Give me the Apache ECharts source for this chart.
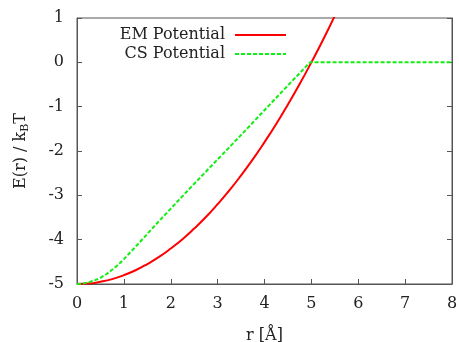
<!DOCTYPE html>
<html>
<head>
<meta charset="utf-8">
<script src="https://cdn.jsdelivr.net/npm/echarts@6/dist/echarts.min.js"></script>
<style>html,body{margin:0;padding:0;background:#fff}#c{width:459px;height:342px}</style>
</head>
<body>
<div id="c"></div>
<script>
// Data
const emR = [0, 0.25, 0.5, 0.75, 1, 1.25, 1.5, 1.75, 2, 2.25, 2.5, 2.75, 3, 3.25, 3.5, 3.75, 4, 4.25, 4.5, 4.75, 5, 5.25, 5.5];
const emE = [-5, -4.99, -4.95, -4.89, -4.8, -4.69, -4.55, -4.39, -4.2, -3.99, -3.75, -3.49, -3.2, -2.89, -2.55, -2.19, -1.8, -1.39, -0.95, -0.49, 0, 0.51, 1.05];
const csR = [0, 0.125, 0.25, 0.375, 0.5, 0.625, 0.75, 0.875, 1, 1.25, 1.5, 1.75, 2, 2.5, 3, 3.5, 4, 4.5, 4.97, 8];
const csE = [-5, -4.99, -4.96, -4.92, -4.86, -4.78, -4.68, -4.57, -4.44, -4.16, -3.87, -3.58, -3.3, -2.74, -2.19, -1.64, -1.08, -0.52, 0, 0];
const seriesNames = ['EM Potential', 'CS Potential'];
const xTitle = 'r [Å]';
const yTitle = 'E(r) / k{sub|B}T';

const font = 'DejaVu Serif';
const axisColor = '#555';
const textColor = '#222';
const pairs = (xs, ys) => xs.map((x, i) => [x, ys[i]]);

const chart = echarts.init(document.getElementById('c'), null, {renderer: 'canvas'});
chart.setOption({
  animation: false,
  backgroundColor: '#fff',
  grid: {left: 77, right: 7, top: 18, bottom: 58, show: true, borderColor: axisColor, borderWidth: 1,
    containLabel: false, outerBoundsMode: 'none'},
  legend: {
    orient: 'vertical', align: 'right', right: 172, top: 27, padding: 0,
    itemWidth: 51, itemHeight: 10, itemGap: 3,
    itemStyle: {opacity: 0},
    textStyle: {fontFamily: font, fontSize: 16, color: textColor, padding: [0, 5, 0, 0]},
    data: seriesNames
  },
  xAxis: {
    type: 'value', min: 0, max: 8, interval: 1,
    name: xTitle, nameLocation: 'middle', nameGap: 44,
    nameTextStyle: {fontFamily: font, fontSize: 16, color: textColor},
    axisLine: {show: true, onZero: false, lineStyle: {color: axisColor}},
    axisTick: {show: true, inside: true, length: 5, lineStyle: {color: axisColor}},
    axisLabel: {fontFamily: font, fontSize: 16, color: textColor, margin: 12},
    splitLine: {show: false}
  },
  yAxis: [{
    type: 'value', min: -5, max: 1, interval: 1,
    name: yTitle, nameLocation: 'middle', nameGap: 46, nameRotate: 90,
    nameTextStyle: {fontFamily: font, fontSize: 16, color: textColor,
      rich: {sub: {fontFamily: font, fontSize: 11, color: textColor, padding: [9, 0, 0, 0]}}},
    axisLine: {show: true, onZero: false, lineStyle: {color: axisColor}},
    axisTick: {show: true, inside: true, length: 5, lineStyle: {color: axisColor}},
    axisLabel: {fontFamily: font, fontSize: 16, color: textColor, margin: 13},
    splitLine: {show: false}
  }, {
    type: 'value', min: -5, max: 1, interval: 1, position: 'right',
    axisLine: {show: true, onZero: false, lineStyle: {color: axisColor}},
    axisTick: {show: true, inside: true, length: 5, lineStyle: {color: axisColor}},
    axisLabel: {show: false},
    splitLine: {show: false}
  }],
  series: [{
    name: seriesNames[0], type: 'line', data: pairs(emR, emE), smooth: true,
    symbol: 'none', clip: true,
    lineStyle: {color: '#ff0000', width: 2}, itemStyle: {color: '#ff0000'}
  }, {
    name: seriesNames[1], type: 'line', data: pairs(csR, csE), smooth: false,
    symbol: 'none', clip: true,
    lineStyle: {color: '#11ee11', width: 2, type: [4, 2]}, itemStyle: {color: '#11ee11'}
  }]
});
</script>
</body>
</html>
